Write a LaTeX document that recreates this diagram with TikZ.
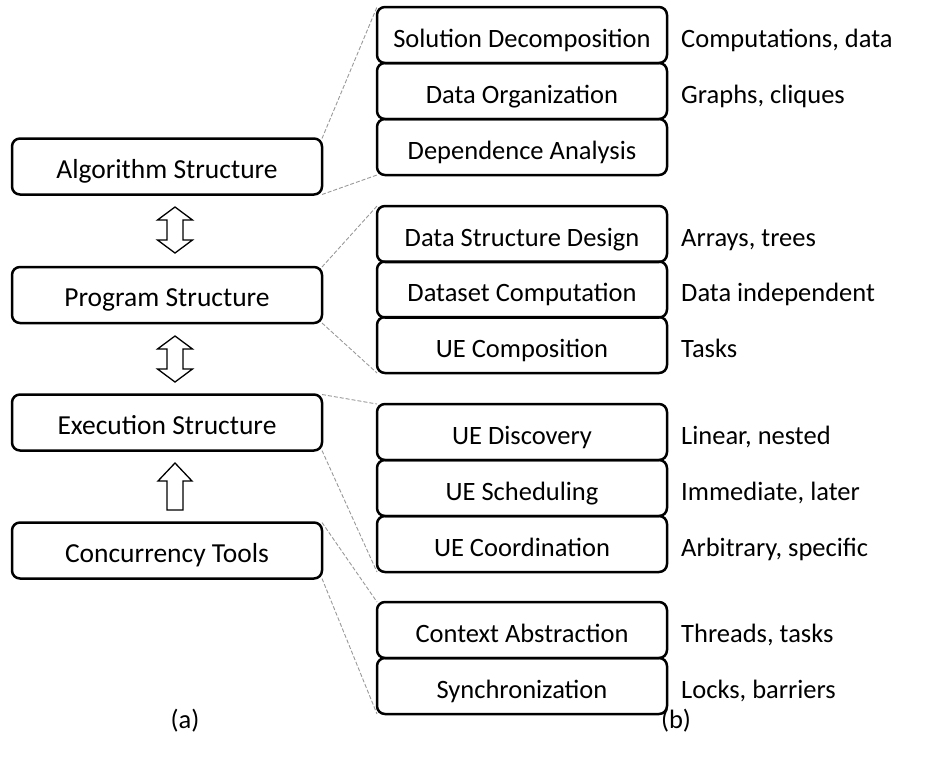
\documentclass[tikz,border=0pt]{standalone}
\usepackage{fontspec}
\setmainfont{Carlito}
\begin{document}
\begin{tikzpicture}[x=1pt,y=-1pt,
  lbox/.style={draw=black, line width=2.5pt, rounded corners=8pt, minimum width=310pt, minimum height=56pt, inner sep=0pt, outer sep=0pt, text height=23.5pt, text depth=0pt, font=\fontsize{27.5}{32}\selectfont},
  rbox/.style={draw=black, line width=2.5pt, rounded corners=8pt, minimum width=290pt, minimum height=56pt, inner sep=0pt, outer sep=0pt, text height=24pt, text depth=0pt, font=\fontsize{26.5}{32}\selectfont},
  note/.style={anchor=west, inner sep=0pt, text height=24pt, text depth=0pt, font=\fontsize{26.5}{32}\selectfont},
  captext/.style={inner sep=0pt, font=\fontsize{26.5}{32}\selectfont},
  link/.style={draw=gray!80, line width=0.9pt, dash pattern=on 4pt off 2pt},
  blk/.style={draw=black, line width=1.3pt, fill=white, line join=miter}
]
\useasboundingbox (0,0) rectangle (928,769);
% left column
\node[lbox] (alg) at (167,166.5) {Algorithm Structure};
\node[lbox] (prog) at (167,295) {Program Structure};
\node[lbox] (exec) at (167,422.5) {Execution Structure};
\node[lbox] (conc) at (167,550.5) {Concurrency Tools};
% right column
\node[rbox] (sd) at (522,35) {Solution Decomposition};
\node[rbox] (do) at (522,91) {Data Organization};
\node[rbox] (da) at (522,147) {Dependence Analysis};
\node[rbox] (dsd) at (522,234) {Data Structure Design};
\node[rbox] (dc) at (522,289.5) {Dataset Computation};
\node[rbox] (uec) at (522,345) {UE Composition};
\node[rbox] (ued) at (522,432) {UE Discovery};
\node[rbox] (ues) at (522,488) {UE Scheduling};
\node[rbox] (ueco) at (522,544) {UE Coordination};
\node[rbox] (ca) at (522,630) {Context Abstraction};
\node[rbox] (sy) at (522,686) {Synchronization};
% notes
\node[note] (n1) at (681,35) {Computations, data};
\node[note] (n2) at (681,91) {Graphs, cliques};
\node[note] (n4) at (681,234) {Arrays, trees};
\node[note] (n5) at (681,289.5) {Data independent};
\node[note] (n6) at (681,345) {Tasks};
\node[note] (n7) at (681,432) {Linear, nested};
\node[note] (n8) at (681,488) {Immediate, later};
\node[note] (n9) at (681,544) {Arbitrary, specific};
\node[note] (n10) at (681,630) {Threads, tasks};
\node[note] (n11) at (681,686) {Locks, barriers};
% captions
\node[captext] (capa) at (185,721) {(a)};
\node[captext] (capb) at (676,721) {(b)};
% dashed connectors
\draw[link] (alg.north east) -- (sd.north west);
\draw[link] (alg.south east) -- (da.south west);
\draw[link] (prog.north east) -- (dsd.north west);
\draw[link] (prog.south east) -- (uec.south west);
\draw[link] (exec.north east) -- (ued.north west);
\draw[link] (exec.south east) -- (ueco.south west);
\draw[link] (conc.north east) -- (ca.north west);
\draw[link] (conc.south east) -- (sy.south west);
% block arrows
\draw[blk] (175,207) -- (192.5,220) -- (183,220) -- (183,240) -- (192.5,240) -- (175,253)
  -- (157.5,240) -- (167,240) -- (167,220) -- (157.5,220) -- cycle;
\draw[blk] (175,336) -- (192.5,349) -- (183,349) -- (183,369) -- (192.5,369) -- (175,382)
  -- (157.5,369) -- (167,369) -- (167,349) -- (157.5,349) -- cycle;
\draw[blk] (175,463) -- (192,481) -- (183,481) -- (183,510) -- (167,510) -- (167,481) -- (158,481) -- cycle;
\end{tikzpicture}
\end{document}
